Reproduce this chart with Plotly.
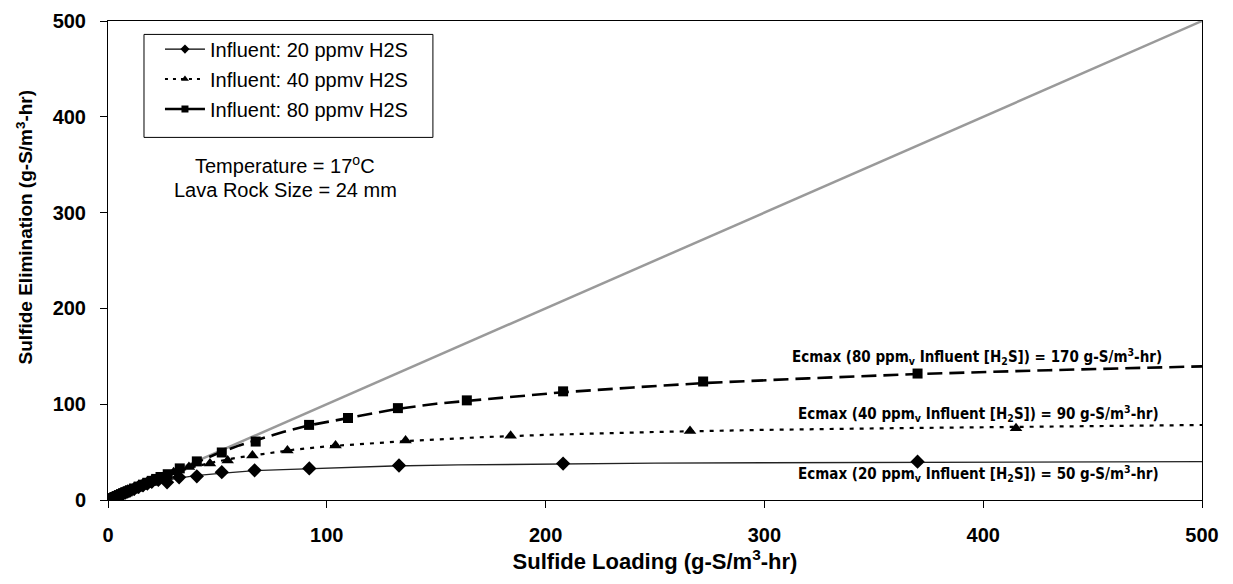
import plotly.graph_objects as go

# ---- measured data (markers) ----
x20 = [1, 2, 3, 4, 5, 6, 7, 8, 9, 10, 12, 14, 16, 18, 20, 23, 27, 32.5, 40.6, 52, 67, 92, 133, 208, 370]
y20 = [1, 2, 3, 4, 5, 6, 6.9, 7.9, 8.9, 9.8, 11.7, 13.6, 15.4, 17.2, 19, 21, 18.5, 23.7, 24.7, 29, 31, 33, 36, 38, 40]

x40 = [1.5, 3, 4.5, 6, 7.5, 9, 11, 13, 15, 17, 20, 24, 30, 37, 46.6, 54.7, 66, 82, 104, 136, 184, 266, 415]
y40 = [1.5, 3, 4.5, 6, 7.5, 9, 11, 13, 15, 17, 19.8, 23.5, 29, 34.5, 38.1, 41.3, 46.5, 51.7, 56.8, 62, 67, 72, 75]

x80 = [1, 2, 3, 4, 5, 6, 7, 8, 9, 10, 12, 14, 16, 18, 20, 22, 24, 27.3, 32.8, 40.6, 52, 67.5, 91.9, 109.7, 132.5, 164, 208, 272, 370]
y80 = [1, 2, 3, 4, 5, 6, 7, 8, 9, 10, 12, 14, 16, 18, 20, 22, 24, 26.9, 33, 40.3, 49.6, 61, 78.4, 85.6, 95.9, 104, 113.4, 123.7, 132]

# ---- drawn curves ----
cx20 = [0, 5, 10, 15, 20, 25, 30, 40, 50, 60, 67, 80, 92, 100, 130, 160, 200, 250, 300, 370, 430, 500]
cy20 = [0, 4.9, 9.5, 13.5, 17, 19.8, 22, 25.4, 27.6, 29.3, 30.6, 31.8, 32.6, 33.2, 35.5, 36.6, 37.7, 38.4, 38.9, 39.4, 39.7, 40]

cx40 = [0, 5, 10, 15, 20, 30, 40, 50, 60, 70, 85, 100, 120, 140, 170, 200, 250, 300, 360, 420, 500]
cy40 = [0, 5, 9.8, 14.5, 19, 28.5, 35, 40.3, 44.5, 48, 52.5, 56, 59.2, 62, 65.5, 68, 71, 73.2, 75, 76.5, 78.3]

cx80 = [0, 10, 20, 30, 40, 50, 60, 70, 80, 92, 110, 132, 150, 180, 208, 240, 272, 320, 370, 430, 500]
cy80 = [0, 10, 19.8, 29.5, 38.8, 48.5, 57, 64, 71, 78, 86, 95, 100.5, 107, 112.5, 117.5, 122, 127, 131.5, 135.5, 139.5]

one_to_one = [0, 500]

series_names = ["Influent: 20 ppmv H2S", "Influent: 40 ppmv H2S", "Influent: 80 ppmv H2S"]
x_ticks = [0, 100, 200, 300, 400, 500]
y_ticks = [0, 100, 200, 300, 400, 500]

dash40 = "4px,6px"
dash80 = "15px,7px"

fig = go.Figure()

# 1:1 line
fig.add_trace(go.Scatter(x=one_to_one, y=one_to_one, mode="lines", cliponaxis=False,
                         line=dict(color="#9a9a9a", width=2.5), showlegend=False, hoverinfo="skip"))

# curves
fig.add_trace(go.Scatter(x=cx20, y=cy20, mode="lines", line=dict(color="#222", width=1.3),
                         showlegend=False))
fig.add_trace(go.Scatter(x=cx40, y=cy40, mode="lines", line=dict(color="black", width=2.2, dash=dash40),
                         showlegend=False))
fig.add_trace(go.Scatter(x=cx80, y=cy80, mode="lines", line=dict(color="black", width=2.6, dash=dash80),
                         showlegend=False))

# markers
fig.add_trace(go.Scatter(x=x20, y=y20, mode="markers",
                         marker=dict(symbol="diamond", size=11, color="black"), showlegend=False))
fig.add_trace(go.Scatter(x=x40, y=y40, mode="markers",
                         marker=dict(symbol="triangle-up", size=11, color="black"), showlegend=False))
fig.add_trace(go.Scatter(x=x80, y=y80, mode="markers",
                         marker=dict(symbol="square", size=10, color="black"), showlegend=False))

# legend entries
fig.add_trace(go.Scatter(x=[None], y=[None], mode="lines+markers", name=series_names[0], legendgroup="a",
                         line=dict(color="black", width=1.3), marker=dict(symbol="diamond", size=7, color="black")))
fig.add_trace(go.Scatter(x=[None], y=[None], mode="lines+markers", name=series_names[1], legendgroup="b",
                         line=dict(color="black", width=2, dash="3px,5px"),
                         marker=dict(symbol="triangle-up", size=7, color="black")))
fig.add_trace(go.Scatter(x=[None], y=[None], mode="lines+markers", name=series_names[2], legendgroup="c",
                         line=dict(color="black", width=2.5), marker=dict(symbol="square", size=7, color="black")))

ann_font = dict(family="Liberation Sans Narrow, Arial Narrow, DejaVu Sans Condensed, Liberation Sans",
                size=15, color="black", weight="bold")
annotations = [
    dict(x=397, y=149.5, text="Ecmax (80 ppm<sub>v</sub> Influent [H<sub>2</sub>S]) = 170 g-S/m<sup>3</sup>-hr)"),
    dict(x=398, y=90.7, text="Ecmax (40 ppm<sub>v</sub> Influent [H<sub>2</sub>S]) = 90 g-S/m<sup>3</sup>-hr)"),
    dict(x=398, y=27.8, text="Ecmax (20 ppm<sub>v</sub> Influent [H<sub>2</sub>S]) = 50 g-S/m<sup>3</sup>-hr)"),
]
for a in annotations:
    fig.add_annotation(x=a["x"], y=a["y"], text=a["text"], showarrow=False, font=ann_font,
                       xanchor="center", yanchor="middle")

info_font = dict(family="Liberation Sans, Arial", size=20, color="black")
fig.add_annotation(x=81, y=350.5, text="Temperature = 17<sup>o</sup>C", showarrow=False, font=info_font)
fig.add_annotation(x=81, y=323.7, text="Lava Rock Size = 24 mm", showarrow=False, font=info_font)

# y-axis title (placed as in the reference, slightly above the axis centre)
fig.add_annotation(xref="paper", yref="paper", x=-0.0759, y=0.569, textangle=-90,
                   text="Sulfide Elimination (g-S/m<sup>3</sup>-hr)", showarrow=False,
                   xanchor="center", yanchor="middle",
                   font=dict(family="Liberation Sans, Arial", size=19, color="black", weight="bold"))

# legend frame (box drawn around the legend entries)
fig.add_shape(type="rect", xref="paper", yref="paper", x0=0.0329, x1=0.297, y0=0.757, y1=0.972,
              line=dict(color="black", width=1), fillcolor="rgba(0,0,0,0)", layer="above")

axis_common = dict(showline=True, linecolor="black", linewidth=1, mirror=True, showgrid=False,
                   zeroline=False, ticks="outside", ticklen=7, tickcolor="black", automargin=False,
                   ticklabeloverflow="allow",
                   tickfont=dict(family="Liberation Sans, Arial", size=20, color="black", weight="bold"))

fig.update_xaxes(range=[0, 500], tickvals=x_ticks, ticklabelstandoff=10,
                 title=dict(text="Sulfide Loading (g-S/m<sup>3</sup>-hr)", standoff=6,
                            font=dict(family="Liberation Sans, Arial", size=22, color="black", weight="bold")),
                 **axis_common)
fig.update_yaxes(range=[0, 500], tickvals=y_ticks, ticklabelstandoff=10, **axis_common)

fig.update_layout(
    width=1225, height=576,
    margin=dict(l=100, r=31, t=13, b=84),
    plot_bgcolor="white", paper_bgcolor="white",
    showlegend=True,
    legend=dict(x=0.0475, y=0.982, xanchor="left", yanchor="top",
                borderwidth=0, bgcolor="rgba(0,0,0,0)",
                font=dict(family="Liberation Sans, Arial", size=20, color="black"),
                tracegroupgap=1, itemwidth=40),
)

fig.write_html("out.html")
